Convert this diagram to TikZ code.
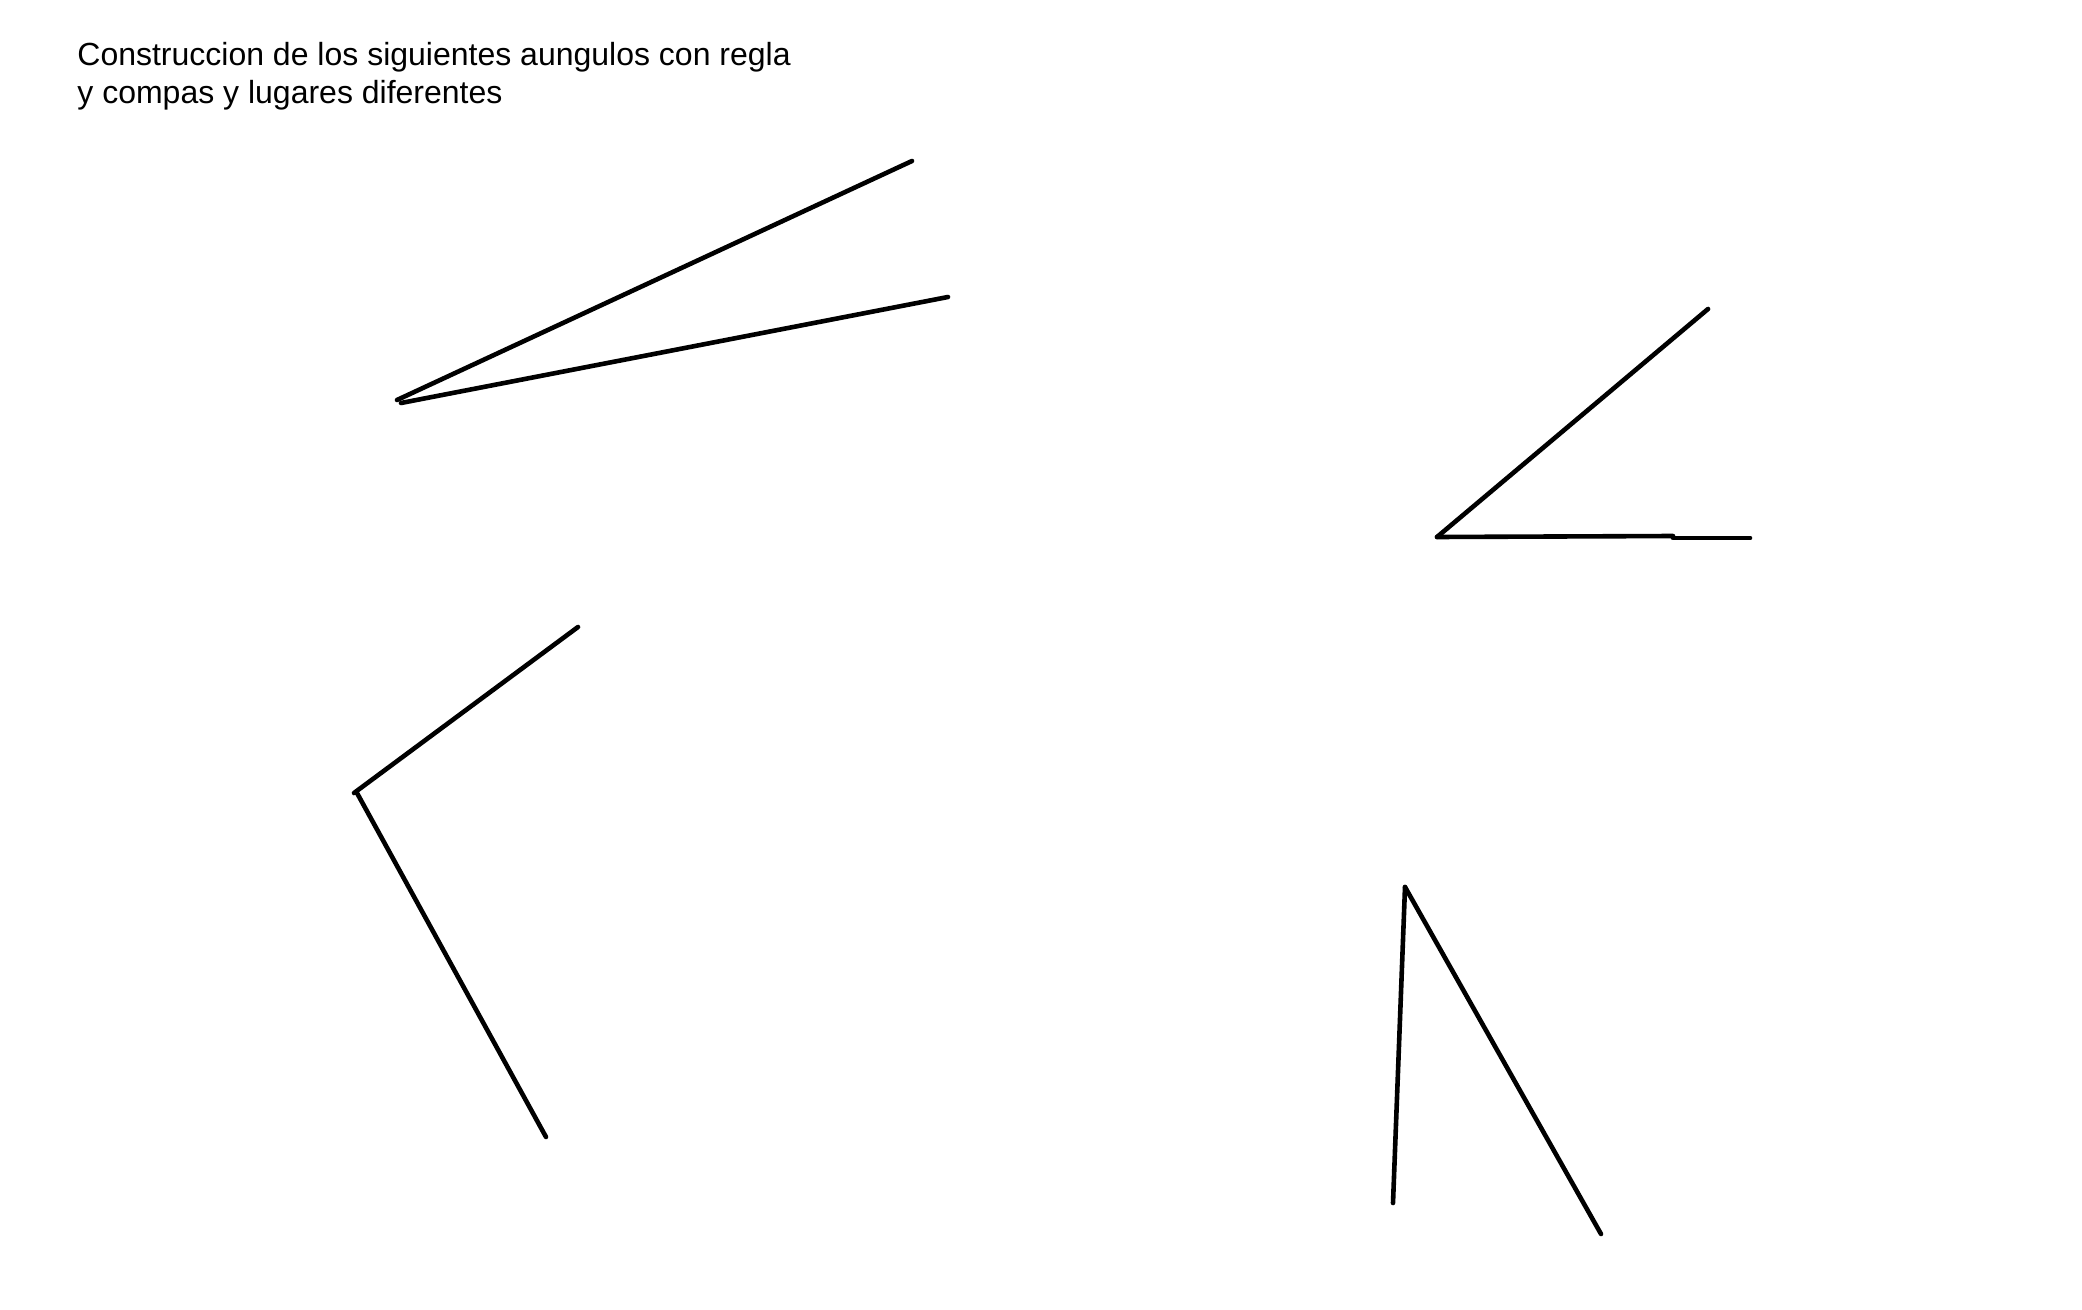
\documentclass[tikz,border=0pt]{standalone}
\usepackage{fontspec}
\setmainfont{Liberation Sans}
\usepackage{tikz}

\begin{document}
\begin{tikzpicture}[x=0.5pt, y=-0.5pt, lado/.style={black, line width=2.3pt, line cap=round}]
 \useasboundingbox (0,0) rectangle (2082,1310);
 \node[anchor=north west, inner sep=0pt, align=left, font=\fontsize{16pt}{19pt}\selectfont] (titulo) at (77,42)
  {Construccion de los siguientes aungulos con regla\\y compas y lugares diferentes};

 % angulo agudo arriba
 \coordinate (v1) at (397,400);
 \draw[lado] (v1) -- (912,161);
 \draw[lado] (401,403) -- (948,297);

 % angulo derecha
 \coordinate (v2) at (1437,537);
 \draw[lado] (v2) -- (1708,309);
 \draw[lado] (v2) -- (1673,536);
 \draw[lado] (1673,538) -- (1750,538);

 % angulo izquierda abajo
 \coordinate (v3) at (354,793);
 \draw[lado] (v3) -- (578,627);
 \draw[lado] (357,793) -- (546,1137);

 % angulo derecha abajo
 \coordinate (v4) at (1405,887);
 \draw[lado] (v4) -- (1393,1203);
 \draw[lado] (v4) -- (1601,1234);
\end{tikzpicture}
\end{document}
